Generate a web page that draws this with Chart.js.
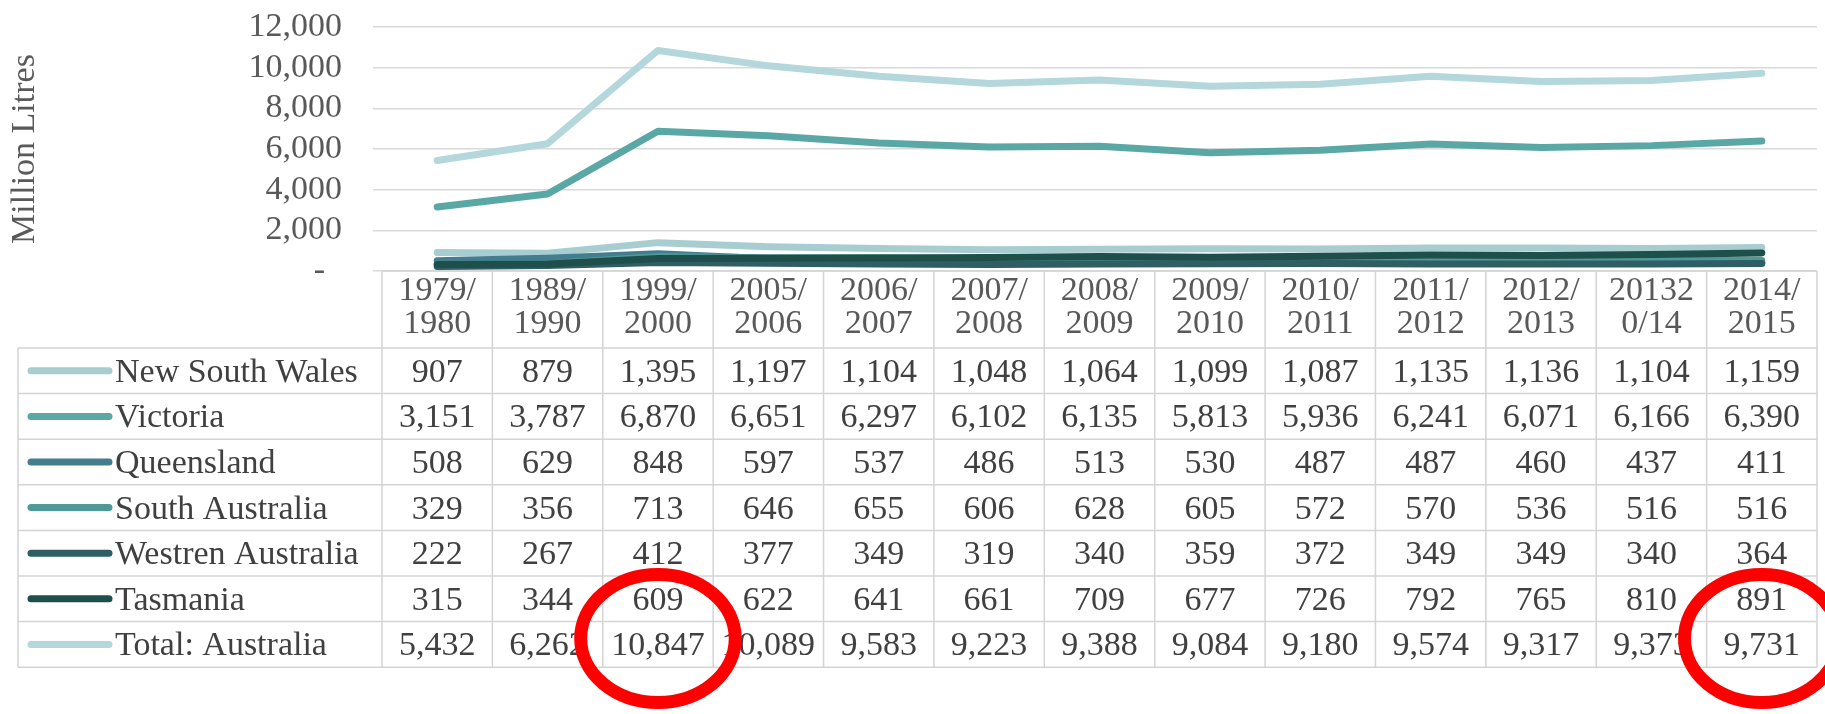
<!DOCTYPE html>
<html>
<head>
<meta charset="utf-8">
<script src="https://cdn.jsdelivr.net/npm/chart.js@4.4.1/dist/chart.umd.min.js"></script>
<style>
  html, body { margin: 0; padding: 0; background: #ffffff; }
  canvas { display: block; }
</style>
</head>
<body>
<canvas id="c" width="1825" height="714"></canvas>
<script>
// ---- data ----
const categories = [
  ['1979/', '1980'], ['1989/', '1990'], ['1999/', '2000'], ['2005/', '2006'],
  ['2006/', '2007'], ['2007/', '2008'], ['2008/', '2009'], ['2009/', '2010'],
  ['2010/', '2011'], ['2011/', '2012'], ['2012/', '2013'], ['20132', '0/14'],
  ['2014/', '2015']
];
const seriesNames = ['New South Wales', 'Victoria', 'Queensland', 'South Australia',
                     'Westren Australia', 'Tasmania', 'Total: Australia'];
const newSouthWales = [907, 879, 1395, 1197, 1104, 1048, 1064, 1099, 1087, 1135, 1136, 1104, 1159];
const victoria = [3151, 3787, 6870, 6651, 6297, 6102, 6135, 5813, 5936, 6241, 6071, 6166, 6390];
const queensland = [508, 629, 848, 597, 537, 486, 513, 530, 487, 487, 460, 437, 411];
const southAustralia = [329, 356, 713, 646, 655, 606, 628, 605, 572, 570, 536, 516, 516];
const westernAustralia = [222, 267, 412, 377, 349, 319, 340, 359, 372, 349, 349, 340, 364];
const tasmania = [315, 344, 609, 622, 641, 661, 709, 677, 726, 792, 765, 810, 891];
const totalAustralia = [5432, 6262, 10847, 10089, 9583, 9223, 9388, 9084, 9180, 9574, 9317, 9373, 9731];
const yTicks = [0, 2000, 4000, 6000, 8000, 10000, 12000];
const highlightedCells = [[2, 6], [12, 6]]; // [category index, row index] circled in red

const seriesValues = [newSouthWales, victoria, queensland, southAustralia,
                      westernAustralia, tasmania, totalAustralia];
const seriesColors = ['#A8CDD1', '#5AA8A6', '#447D8F', '#4E9A99', '#2F5E65', '#1F4F4A', '#B3D7DB'];

const FONT = '"Liberation Serif", "Times New Roman", serif';
const TEXT = '#404040';

const fmt = v => v.toLocaleString('en-US');

const tablePlugin = {
  id: 'dataTable',
  afterDraw(chart) {
    const ctx = chart.ctx;
    const xs = chart.scales.x;
    const area = chart.chartArea;
    const n = categories.length;
    const colW = xs.getPixelForValue(1) - xs.getPixelForValue(0);
    const gridLeft = xs.getPixelForValue(0) - colW / 2;
    const gridRight = xs.getPixelForValue(n - 1) + colW / 2;
    const headTop = area.bottom;
    const headBottom = xs.bottom;
    const rowH = 45.6;
    const tableLeft = 18;
    const rows = seriesNames.length;
    const tableBottom = headBottom + rows * rowH;

    ctx.save();
    ctx.strokeStyle = '#d4d4d4';
    ctx.lineWidth = 1.5;
    ctx.beginPath();
    ctx.moveTo(gridLeft, headTop); ctx.lineTo(gridRight, headTop);
    for (let r = 0; r <= rows; r++) {
      const y = headBottom + r * rowH;
      ctx.moveTo(tableLeft, y); ctx.lineTo(gridRight, y);
    }
    for (let j = 0; j <= n; j++) {
      const x = gridLeft + j * colW;
      ctx.moveTo(x, headTop); ctx.lineTo(x, tableBottom);
    }
    ctx.moveTo(tableLeft, headBottom); ctx.lineTo(tableLeft, tableBottom);
    ctx.stroke();

    ctx.font = '34px ' + FONT;
    ctx.fillStyle = TEXT;
    ctx.textBaseline = 'alphabetic';
    for (let r = 0; r < rows; r++) {
      const cy = headBottom + r * rowH + rowH / 2;
      // legend key
      ctx.strokeStyle = seriesColors[r];
      ctx.lineWidth = 7;
      ctx.lineCap = 'round';
      ctx.beginPath();
      ctx.moveTo(tableLeft + 13, cy); ctx.lineTo(tableLeft + 91, cy);
      ctx.stroke();
      ctx.textAlign = 'left';
      ctx.fillText(seriesNames[r], tableLeft + 97, cy + 11);
      ctx.textAlign = 'center';
      const vals = seriesValues[r];
      for (let i = 0; i < n; i++) {
        ctx.fillText(fmt(vals[i]), xs.getPixelForValue(i), cy + 11);
      }
    }

    // red annotation rings
    ctx.strokeStyle = '#FE0000';
    ctx.lineWidth = 13;
    highlightedCells.forEach(([ci, ri]) => {
      const cx = xs.getPixelForValue(ci);
      const cy = headBottom + ri * rowH + rowH / 2 - 6;
      ctx.beginPath();
      ctx.ellipse(cx, cy, colW * 0.7, 64, 0, 0, Math.PI * 2);
      ctx.stroke();
    });
    ctx.restore();
  }
};

const datasets = seriesNames.map((name, i) => ({
  label: name,
  data: seriesValues[i],
  borderColor: seriesColors[i],
  backgroundColor: seriesColors[i],
  borderWidth: 7,
  pointRadius: 0,
  tension: 0,
  fill: false,
  borderCapStyle: 'round',
  borderJoinStyle: 'round',
  order: seriesNames.length - 1 - i
}));

new Chart(document.getElementById('c'), {
  type: 'line',
  data: { labels: categories, datasets },
  options: {
    responsive: false,
    animation: false,
    devicePixelRatio: 1,
    layout: { padding: { top: 27, right: 8, bottom: 366, left: 0 } },
    plugins: { legend: { display: false }, tooltip: { enabled: false } },
    scales: {
      x: {
        type: 'category',
        offset: true,
        grid: { display: false, drawTicks: false },
        border: { display: false },
        ticks: {
          autoSkip: false, maxRotation: 0, minRotation: 0, padding: 4,
          color: '#595959',
          font: { family: FONT, size: 34, lineHeight: '33px' }
        },
        afterFit: s => { s.height = 77; }
      },
      y: {
        min: 0, max: 12000,
        afterBuildTicks: s => { s.ticks = yTicks.map(v => ({ value: v })); },
        grid: { color: '#d9d9d9', lineWidth: 1.5, drawTicks: true, tickLength: 9 },
        border: { display: false },
        ticks: {
          autoSkip: false,
          padding: 31, color: '#595959',
          font: { family: FONT, size: 34 },
          callback: v => v === 0 ? '-  ' : fmt(v)
        },
        title: {
          display: true, text: 'Million Litres', color: '#595959',
          font: { family: FONT, size: 34 }, padding: { top: 5, bottom: 0 }
        },
        afterFit: s => { s.width = 382; s.paddingTop = 0; s.paddingBottom = 0; }
      }
    }
  },
  plugins: [tablePlugin]
});
</script>
</body>
</html>
